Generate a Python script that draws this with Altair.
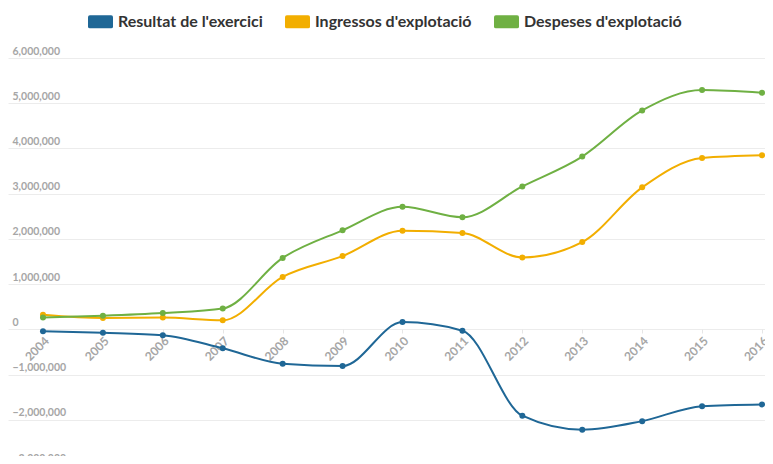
import altair as alt
import pandas as pd

years = [2004, 2005, 2006, 2007, 2008, 2009, 2010, 2011, 2012, 2013, 2014, 2015, 2016]
series_names = ["Resultat de l'exercici", "Ingressos d'explotació", "Despeses d'explotació"]
resultat = [-40000, -75000, -130000, -420000, -760000, -810000, 160000, -30000, -1910000, -2220000, -2030000, -1700000, -1660000]
ingressos = [320000, 250000, 260000, 200000, 1160000, 1620000, 2180000, 2130000, 1590000, 1930000, 3140000, 3790000, 3850000]
despeses = [260000, 300000, 360000, 460000, 1580000, 2190000, 2710000, 2480000, 3160000, 3820000, 4840000, 5290000, 5230000]
colors = ["#1f6796", "#f2ae00", "#6fb043"]
y_ticks = [-3000000, -2000000, -1000000, 0, 1000000, 2000000, 3000000, 4000000, 5000000, 6000000]

rows = []
for name, vals in zip(series_names, [resultat, ingressos, despeses]):
    for yr, v in zip(years, vals):
        rows.append({"year": yr, "value": v, "serie": name})
df = pd.DataFrame(rows)

rr = ("M-0.85,-0.52 L0.85,-0.52 Q1,-0.52 1,-0.37 L1,0.37 Q1,0.52 0.85,0.52 "
      "L-0.85,0.52 Q-1,0.52 -1,0.37 L-1,-0.37 Q-1,-0.52 -0.85,-0.52 Z")

legend = alt.Legend(
    orient="none", legendX=80, legendY=-49, direction="horizontal", title=None,
    symbolType=rr, symbolSize=625, symbolStrokeWidth=0, symbolOpacity=1,
    labelFontSize=16, labelFontWeight="bold", labelColor="#333333",
    labelLimit=400, columnPadding=22, labelOffset=5,
)
color = alt.Color("serie:N", scale=alt.Scale(domain=series_names, range=colors),
                  sort=series_names, legend=legend)

x = alt.X(
    "year:Q",
    scale=alt.Scale(domain=[2003.416, 2016.05], nice=False, zero=False),
    axis=alt.Axis(
        values=years, format="d", labelAngle=-45, grid=False, domain=False,
        ticks=True, tickSize=4, tickColor="#e6e6e6", labelColor="#a6a6a6",
        labelFontSize=12, labelFontWeight="bold", offset=-136, title=None,
        labelPadding=2, labelFlush=False, labelOverlap=False,
    ),
)
y = alt.Y(
    "value:Q",
    scale=alt.Scale(domain=[-3000000, 6000000], nice=False),
    axis=alt.Axis(
        values=y_ticks, format=",d", grid=True, gridColor="#ececec", gridWidth=1,
        domain=False, ticks=False, tickSize=0, labelAlign="left", labelBaseline="bottom",
        labelPadding=-4, labelOffset=-2, labelColor="#a6a6a6", labelFontSize=10.5,
        labelFontWeight="bold", title=None,
    ),
)

lines = alt.Chart(df).mark_line(interpolate="monotone", strokeWidth=2).encode(
    x=x, y=y, color=color, detail="serie:N",
)
points = alt.Chart(df).mark_point(filled=True, size=36, opacity=1).encode(
    x=x, y=y, color=color,
)

chart = (
    alt.layer(lines, points)
    .properties(
        width=757, height=407,
        padding={"left": 0, "top": 50, "right": 0, "bottom": -9},
        autosize=alt.AutoSizeParams(type="none"),
    )
    .configure(font="Lato")
    .configure_view(stroke=None)
)

chart.save("out.html", embed_options={"renderer": "svg", "actions": False})
